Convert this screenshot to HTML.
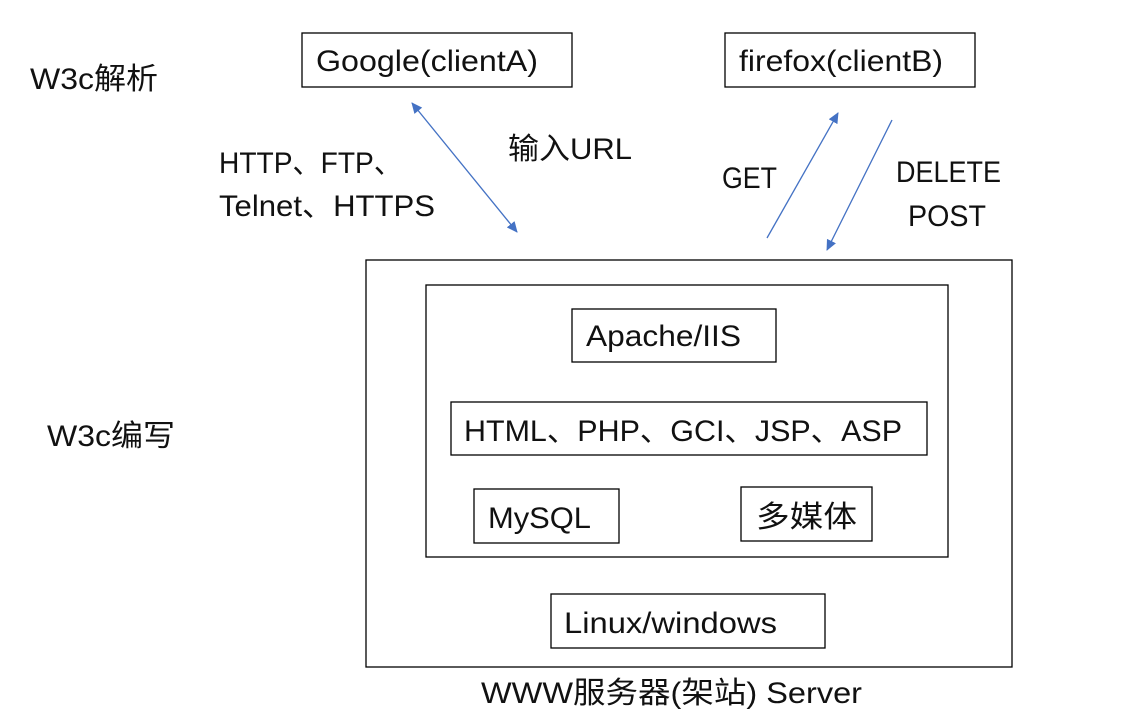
<!DOCTYPE html>
<html><head><meta charset="utf-8"><style>
html,body{margin:0;padding:0;background:#fff;}
svg{display:block;}
text{font-family:"Liberation Sans","Noto Sans CJK SC",sans-serif;font-size:30px;fill:#111;}
rect{fill:none;stroke:#000;stroke-width:1.3;}
</style></head><body>
<svg width="1121" height="712" viewBox="0 0 1121 712" xmlns="http://www.w3.org/2000/svg">
<defs>
<marker id="a" markerWidth="12" markerHeight="12" refX="10" refY="6" orient="auto" markerUnits="userSpaceOnUse">
<path d="M0,1 L11,6 L0,11 z" fill="#4472c4"/></marker>
<marker id="b" markerWidth="12" markerHeight="12" refX="1" refY="6" orient="auto" markerUnits="userSpaceOnUse">
<path d="M11,1 L0,6 L11,11 z" fill="#4472c4"/></marker>
</defs>
<rect x="302" y="33" width="270" height="54"/>
<rect x="725" y="33" width="250" height="54"/>
<rect x="366" y="260" width="646" height="407"/>
<rect x="426" y="285" width="522" height="272"/>
<rect x="572" y="309" width="204" height="53"/>
<rect x="451" y="402" width="476" height="53"/>
<rect x="474" y="489" width="145" height="54"/>
<rect x="741" y="487" width="131" height="54"/>
<rect x="551" y="594" width="274" height="54"/>
<text x="316" y="71" textLength="222" lengthAdjust="spacingAndGlyphs">Google(clientA)</text>
<text x="739" y="71" textLength="204" lengthAdjust="spacingAndGlyphs">firefox(clientB)</text>
<text x="30" y="89" textLength="128" lengthAdjust="spacingAndGlyphs">W3c解析</text>
<text x="219" y="173" textLength="183" lengthAdjust="spacingAndGlyphs">HTTP、FTP、</text>
<text x="219" y="216" textLength="216" lengthAdjust="spacingAndGlyphs">Telnet、HTTPS</text>
<text x="508" y="159" textLength="124" lengthAdjust="spacingAndGlyphs">输入URL</text>
<text x="722" y="188" textLength="55" lengthAdjust="spacingAndGlyphs">GET</text>
<text x="896" y="182" textLength="105" lengthAdjust="spacingAndGlyphs">DELETE</text>
<text x="908" y="226" textLength="78" lengthAdjust="spacingAndGlyphs">POST</text>
<text x="586" y="346" textLength="155" lengthAdjust="spacingAndGlyphs">Apache/IIS</text>
<text x="464" y="441" textLength="438" lengthAdjust="spacingAndGlyphs">HTML、PHP、GCI、JSP、ASP</text>
<text x="488" y="528" textLength="103" lengthAdjust="spacingAndGlyphs">MySQL</text>
<text x="756" y="527" textLength="101" lengthAdjust="spacingAndGlyphs">多媒体</text>
<text x="564" y="633" textLength="213" lengthAdjust="spacingAndGlyphs">Linux/windows</text>
<text x="47" y="446" textLength="128" lengthAdjust="spacingAndGlyphs">W3c编写</text>
<text x="481" y="703" textLength="381" lengthAdjust="spacingAndGlyphs">WWW服务器(架站) Server</text>
<line x1="412" y1="103" x2="517" y2="232" stroke="#4472c4" stroke-width="1.3" marker-start="url(#b)" marker-end="url(#a)"/>
<line x1="767" y1="238" x2="838" y2="113" stroke="#4472c4" stroke-width="1.3" marker-end="url(#a)"/>
<line x1="892" y1="120" x2="827" y2="250" stroke="#4472c4" stroke-width="1.3" marker-end="url(#a)"/>
</svg>
</body></html>
